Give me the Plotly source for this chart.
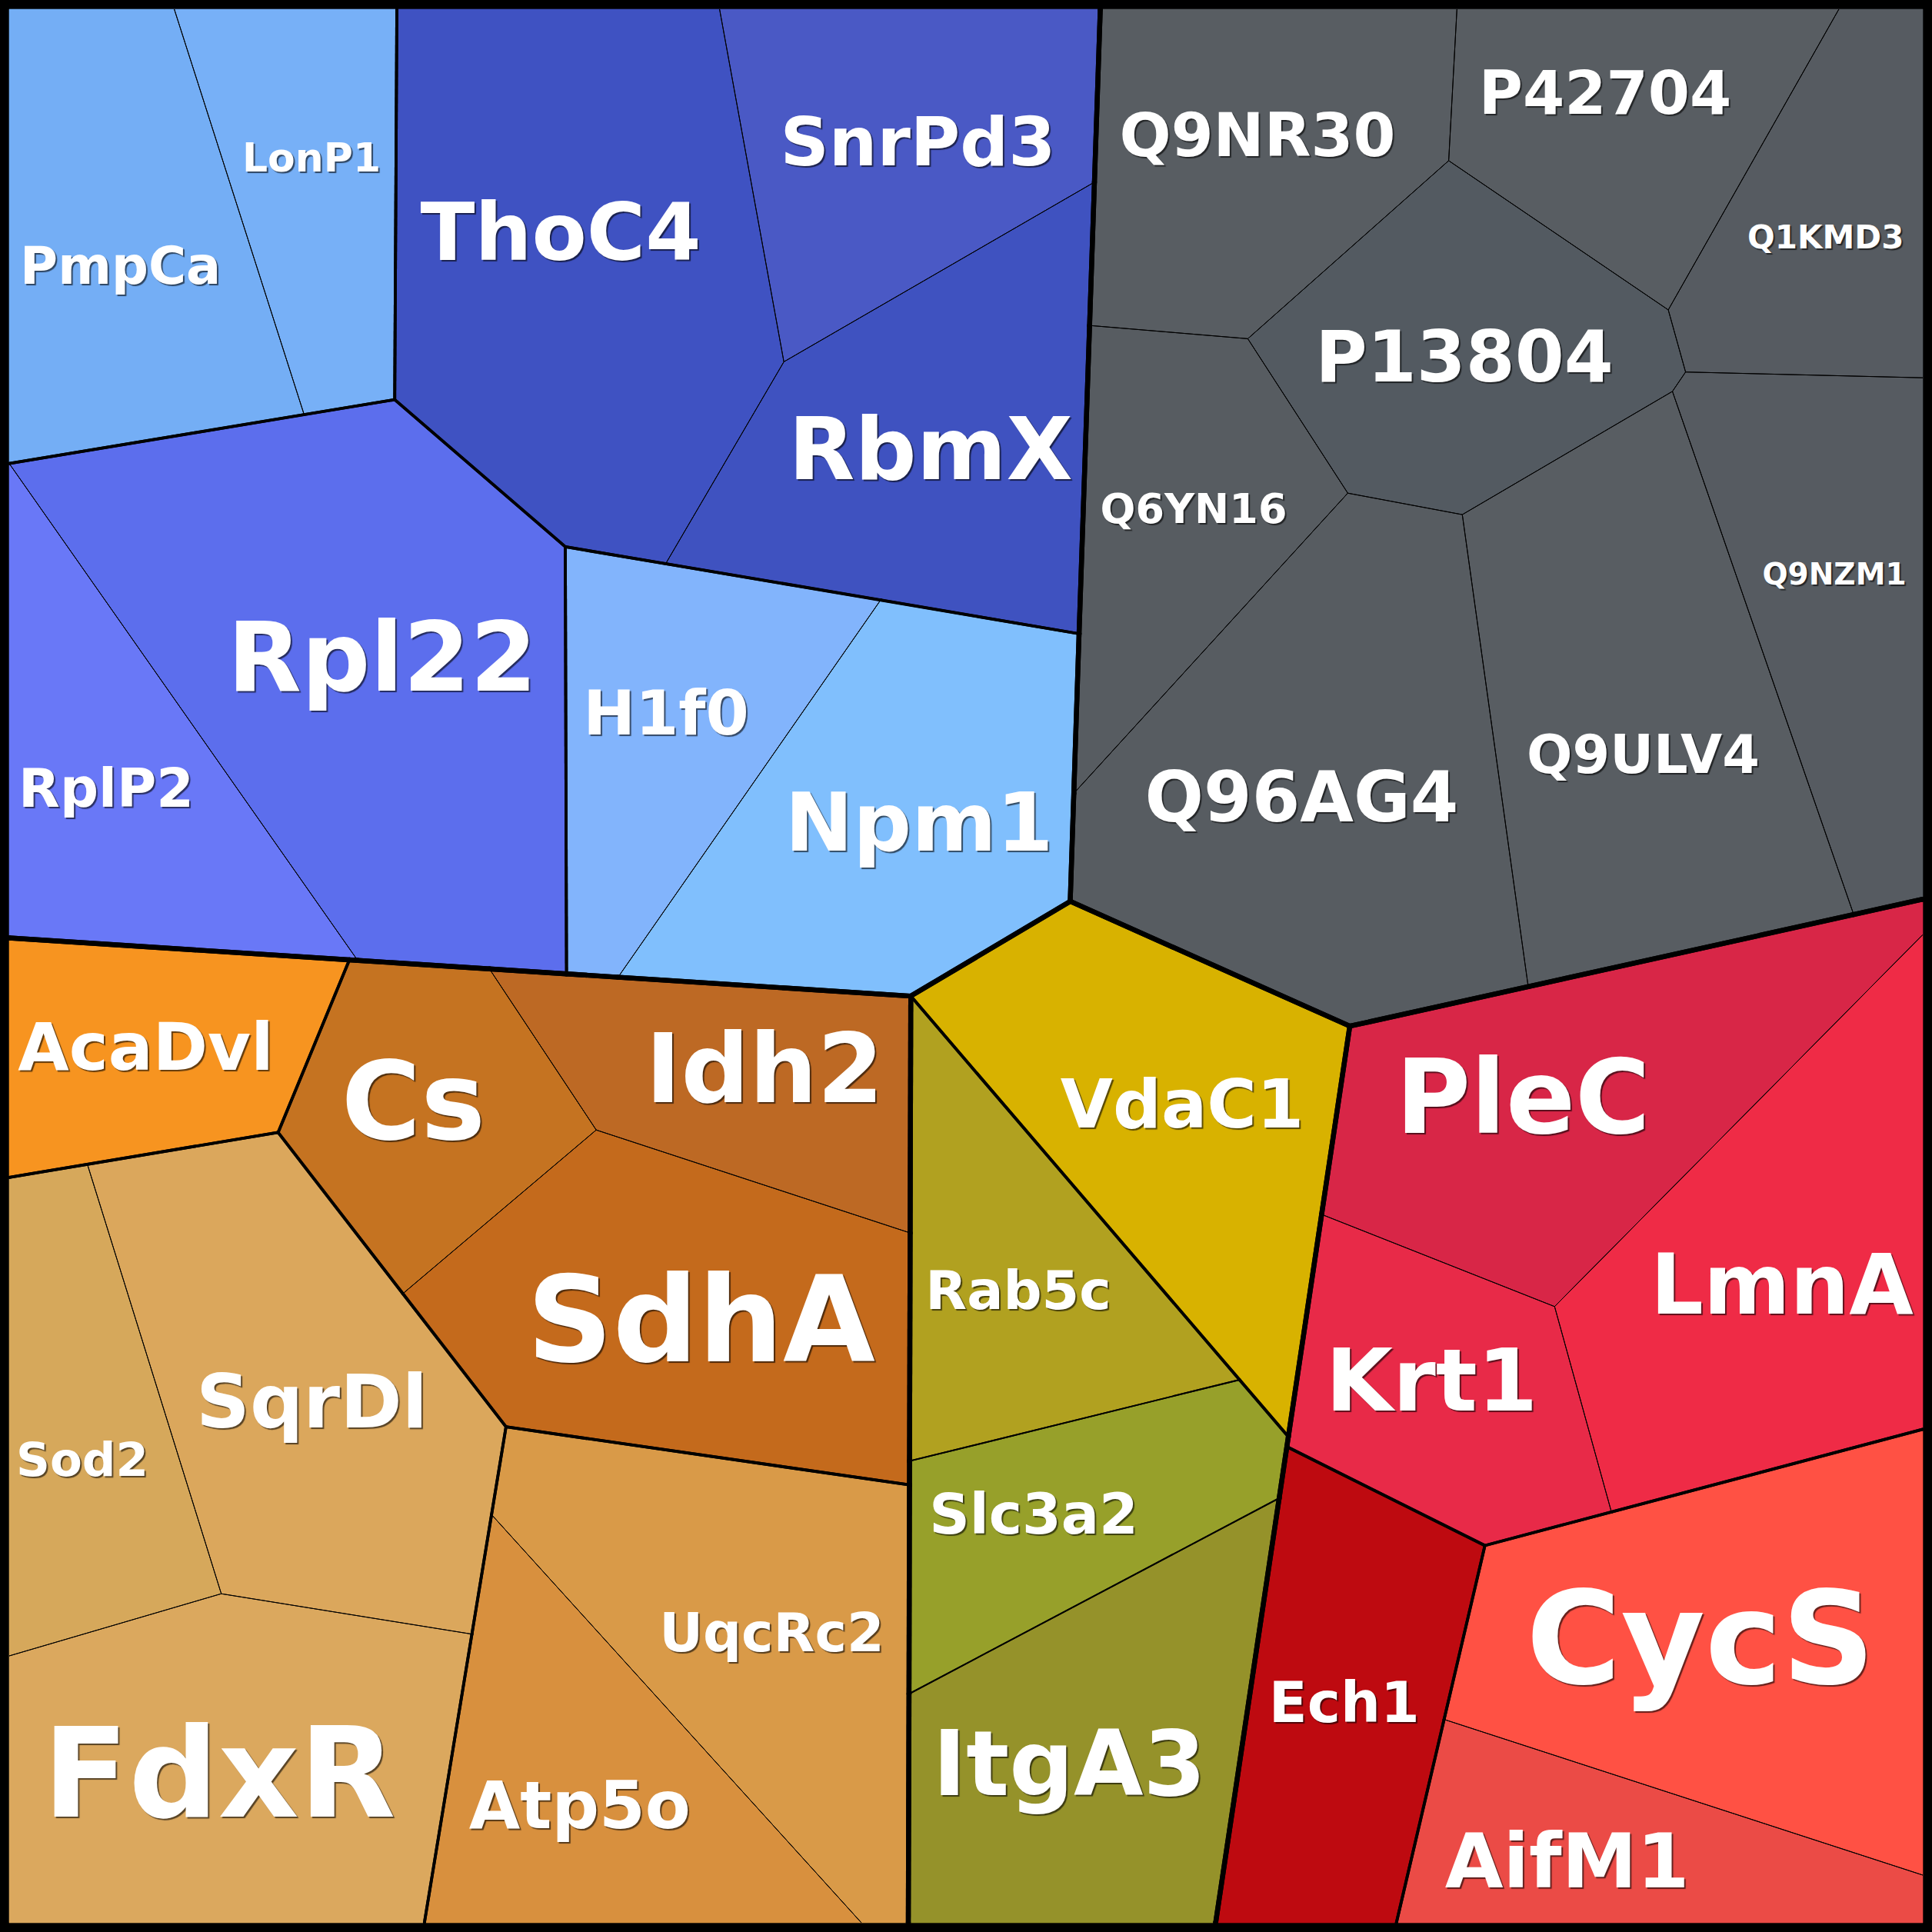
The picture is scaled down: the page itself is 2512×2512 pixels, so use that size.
import plotly.graph_objects as go

# ---------------- data ----------------
cells = ["PmpCa", "LonP1", "ThoC4", "SnrPd3", "RbmX", "Rpl22", "RplP2", "H1f0", "Npm1",
         "Q9NR30", "P42704", "Q1KMD3", "P13804", "Q6YN16", "Q96AG4", "Q9ULV4", "Q9NZM1",
         "AcaDvl", "Cs", "Idh2", "SdhA", "Sod2", "SqrDl", "FdxR", "UqcRc2", "Atp5o",
         "VdaC1", "Rab5c", "Slc3a2", "ItgA3",
         "PleC", "Krt1", "LmnA", "Ech1", "CycS", "AifM1"]

groups = ["A1", "A1", "A2", "A2", "A2", "A3", "A3", "A4", "A4",
          "B1", "B1", "B1", "B1", "B1", "B1", "B1", "B1",
          "C1", "C2", "C2", "C2", "C3", "C3", "C3", "C4", "C4",
          "D1", "D2", "D2", "D2",
          "E1", "E1", "E1", "E2", "E3", "E3"]

colors = ["#74aef5", "#77b0f7", "#3f52c2", "#4a59c5", "#3f52c0", "#5c6eed", "#6978f7", "#82b4fc", "#80bffd",
          "#585d62", "#585d62", "#565b61", "#535a61", "#575c61", "#575c61", "#585d62", "#565b61",
          "#f79420", "#c57321", "#bd6924", "#c46a1c", "#d6a85b", "#dba75c", "#dba85e", "#d99a48", "#d8903e",
          "#d8b200", "#b1a120", "#97a02a", "#95922a",
          "#d82647", "#e82a48", "#ef2b46", "#be0a10", "#ff5144", "#eb4b46"]

polygons = [
    [(12, 12), (226.6, 12), (395.4, 539), (12, 602.7)],
    [(226.6, 12), (516, 12), (513.2, 519.6), (395.4, 539)],
    [(516, 12), (935.6, 12), (1019.2, 470.4), (865.5, 733), (735, 710.9), (513.2, 519.6)],
    [(935.6, 12), (1430.6, 12), (1423, 236.8), (1019.2, 470.4)],
    [(1019.2, 470.4), (1423, 236.8), (1403, 824), (865.5, 733)],
    [(12, 602.7), (513.2, 519.6), (735, 710.9), (736.6, 1266.2), (465, 1248.7)],
    [(12, 602.7), (465, 1248.7), (12, 1219.5)],
    [(735, 710.9), (1145.1, 780), (803.6, 1270.6), (736.6, 1266.2)],
    [(1145.1, 780), (1403, 824), (1391.5, 1171.9), (1184.2, 1295.1), (803.6, 1270.6)],
    [(1430.6, 12), (1894.3, 12), (1883.6, 208.9), (1622.4, 440.4), (1416.7, 423.2)],
    [(1894.3, 12), (2390.9, 12), (2169.1, 402.9), (1883.6, 208.9)],
    [(2390.9, 12), (2500, 12), (2500, 491.2), (2191.6, 483.7), (2169.1, 402.9)],
    [(1883.6, 208.9), (2169.1, 402.9), (2191.6, 483.7), (2174.5, 508.9), (1901.3, 669.1),
     (1752.4, 641.2), (1622.4, 440.4)],
    [(1416.7, 423.2), (1622.4, 440.4), (1752.4, 641.2), (1396.2, 1031.5), (1403, 824)],
    [(1752.4, 641.2), (1901.3, 669.1), (1987, 1282.8), (1755, 1334.2), (1391.5, 1171.9), (1396.2, 1031.5)],
    [(1901.3, 669.1), (2174.5, 508.9), (2410.2, 1189.1), (1987, 1282.8)],
    [(2174.5, 508.9), (2191.6, 483.7), (2500, 491.2), (2500, 1169.2), (2410.2, 1189.1)],
    [(12, 1219.5), (454.3, 1248), (361.6, 1472.4), (12, 1530.8)],
    [(454.3, 1248), (636.4, 1259.8), (775.2, 1469.2), (523.8, 1682), (361.6, 1472.4)],
    [(636.4, 1259.8), (1184.2, 1295.1), (1183.4, 1603.1), (775.2, 1469.2)],
    [(775.2, 1469.2), (1183.4, 1603.1), (1182.5, 1930.7), (657.9, 1855.2), (523.8, 1682)],
    [(12, 1530.8), (113.6, 1513.8), (287.7, 2072.2), (12, 2153)],
    [(113.6, 1513.8), (361.6, 1472.4), (657.9, 1855.2), (613.6, 2124.7), (287.7, 2072.2)],
    [(12, 2153), (287.7, 2072.2), (613.6, 2124.7), (551.8, 2500), (12, 2500)],
    [(657.9, 1855.2), (1182.5, 1930.7), (1181, 2500), (1120, 2500), (639.1, 1969.3)],
    [(639.1, 1969.3), (1120, 2500), (551.8, 2500)],
    [(1184.2, 1295.1), (1391.5, 1171.9), (1755, 1334.2), (1675.1, 1868)],
    [(1184.2, 1295.1), (1611.7, 1794), (1182.6, 1899.7)],
    [(1182.6, 1899.7), (1611.7, 1794), (1675.1, 1868), (1663.2, 1947.9), (1182, 2202.3)],
    [(1182, 2202.3), (1663.2, 1947.9), (1580.6, 2500), (1181, 2500)],
    [(1755, 1334.2), (2500, 1169.2), (2500, 1215.3), (2021.3, 1698.8), (1718.4, 1579)],
    [(1718.4, 1579), (2021.3, 1698.8), (2095.2, 1965.9), (1930.7, 2009.5), (1673.2, 1881)],
    [(2021.3, 1698.8), (2500, 1215.3), (2500, 1858.4), (2095.2, 1965.9)],
    [(1673.2, 1881), (1930.7, 2009.5), (1815.6, 2500), (1580.6, 2500)],
    [(1930.7, 2009.5), (2500, 1858.4), (2500, 2438), (1877.6, 2235.6)],
    [(1877.6, 2235.6), (2500, 2438), (2500, 2500), (1815.6, 2500)],
]

label_x = [156.7, 405, 729, 1193.5, 1210, 497, 138, 866, 1195,
           1635, 2087, 2373.7, 1904, 1552, 1692.5, 2136.4, 2385,
           189.4, 537.5, 994, 911.5, 107, 405.5, 285.2, 1003.4, 753.8,
           1537, 1324, 1344, 1390.4,
           1980.3, 1861.4, 2317, 1747.8, 2211, 2037.6]
label_y = [344, 203.8, 300, 182.1, 581.7, 852, 1023.2, 925.5, 1066.3,
           173.5, 119.4, 307.2, 462, 659.6, 1034.7, 979.3, 745.3,
           1359, 1429.2, 1387, 1712.5, 1896.2, 1819.8, 2302, 2120.6, 2345,
           1433.2, 1676.5, 1966.6, 2290.7,
           1423.3, 1792.5, 1668.5, 2212, 2126.8, 2417.3]
label_size = [67, 52, 104, 88, 112, 125, 70, 81, 106,
              79, 78, 42, 92, 54, 90, 70, 39,
              86, 141, 124, 155, 61, 97, 163, 70, 86,
              88, 70, 73, 117,
              133, 113, 108, 73, 168, 98]

# line width per hierarchy level
width_section = 6.4
width_group = 3.8
width_leaf = {"D2": 1.9}
width_leaf_default = 1.0
label_shift_em = 0.12  # cap-height centring correction for plotly's middle anchor


def section(g):
    return g[0]


def inside(pt, poly):
    x, y = pt
    c = False
    n = len(poly)
    for i in range(n):
        x1, y1 = poly[i]
        x2, y2 = poly[(i + 1) % n]
        if (y1 > y) != (y2 > y):
            xi = x1 + (y - y1) * (x2 - x1) / (y2 - y1)
            if xi > x:
                c = not c
    return c


fig = go.Figure()

# fills
for name, poly, col in zip(cells, polygons, colors):
    xs = [p[0] for p in poly] + [poly[0][0]]
    ys = [p[1] for p in poly] + [poly[0][1]]
    fig.add_trace(go.Scatter(x=xs, y=ys, mode="lines", fill="toself", fillcolor=col,
                             line=dict(width=0.6, color=col), hoverinfo="text", text=name,
                             showlegend=False))

# boundaries classified by hierarchy
segs = {}
for i, poly in enumerate(polygons):
    n = len(poly)
    for k in range(n):
        p = poly[k]
        q = poly[(k + 1) % n]
        dx, dy = q[0] - p[0], q[1] - p[1]
        ln = (dx * dx + dy * dy) ** 0.5
        if ln < 1:
            continue
        mx, my = (p[0] + q[0]) / 2, (p[1] + q[1]) / 2
        nx, ny = -dy / ln, dx / ln
        nb = None
        for s in (6, -6):
            t = (mx + s * nx, my + s * ny)
            if inside(t, poly):
                continue
            for j, other in enumerate(polygons):
                if j != i and inside(t, other):
                    nb = j
                    break
            if nb is not None:
                break
        if nb is None:
            continue
        gi, gj = groups[i], groups[nb]
        if section(gi) != section(gj):
            w = width_section
        elif gi != gj:
            w = width_group
        else:
            w = width_leaf.get(gi, width_leaf_default)
        segs.setdefault(w, []).append((p, q))

for w in sorted(segs):
    xs, ys = [], []
    for p, q in segs[w]:
        xs += [p[0], q[0], None]
        ys += [p[1], q[1], None]
    mode = "lines+markers" if w > 2 else "lines"
    fig.add_trace(go.Scatter(x=xs, y=ys, mode=mode, line=dict(width=w, color="black"),
                             marker=dict(size=w, color="black"), hoverinfo="skip",
                             showlegend=False))

# labels
text_y = [y + label_shift_em * s for y, s in zip(label_y, label_size)]
fig.add_trace(go.Scatter(x=label_x, y=text_y, mode="text", text=cells,
                         textposition="middle center",
                         textfont=dict(family="DejaVu Sans", weight="bold", size=label_size,
                                       color="white", shadow="2px 2px 1px rgba(0,0,0,0.6)"),
                         hoverinfo="skip", showlegend=False))

fig.update_layout(width=2512, height=2512, margin=dict(l=0, r=0, t=0, b=0),
                  paper_bgcolor="black", plot_bgcolor="black", showlegend=False,
                  xaxis=dict(range=[0, 2512], visible=False, showgrid=False, zeroline=False,
                             fixedrange=True),
                  yaxis=dict(range=[2512, 0], visible=False, showgrid=False, zeroline=False,
                             fixedrange=True))

fig.write_html("out.html", config={"displayModeBar": False},
               post_script="document.body.style.margin='0';document.body.style.overflow='hidden';")
